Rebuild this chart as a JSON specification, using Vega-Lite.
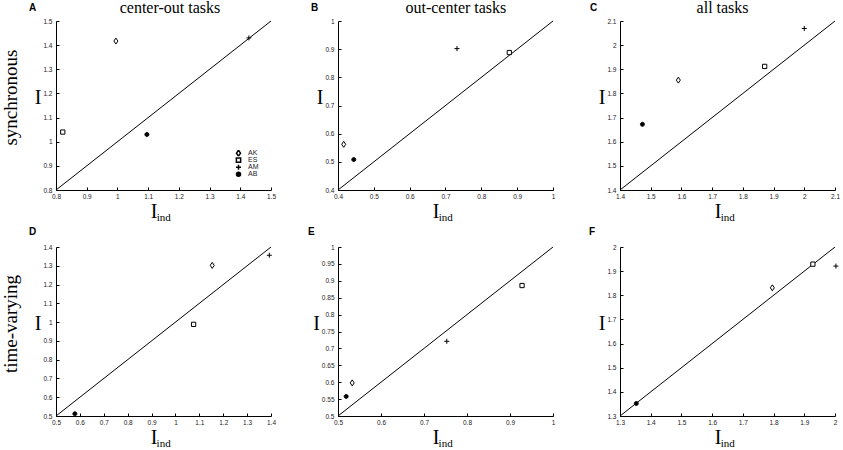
{
  "$schema": "https://vega.github.io/schema/vega-lite/v6.json",
  "background": "white",
  "padding": {"left": 1, "top": 0, "right": 0, "bottom": 0},
  "config": {
    "view": {"stroke": null},
    "axis": {
      "grid": false,
      "domainColor": "black",
      "tickColor": "black",
      "tickSize": -3,
      "labelFont": "Liberation Sans",
      "labelFontSize": 6.5,
      "labelColor": "#222",
      "labelFlush": false,
      "labelOverlap": false,
      "labelBound": false,
      "titleFont": "Liberation Serif",
      "titleFontSize": 20,
      "titleFontWeight": "normal",
      "titleColor": "black",
      "format": "~g"
    },
    "axisX": {"labelPadding": 6, "titleAlign": "right", "titleX": 101, "titleBaseline": "alphabetic", "titlePadding": 18},
    "axisY": {"labelPadding": 7, "titleAngle": 0, "titleAlign": "right", "titleBaseline": "middle", "titlePadding": 2, "titleY": 76},
    "title": {"font": "Liberation Serif", "fontSize": 19, "fontWeight": "normal", "color": "black"},
    "text": {"color": "black"}
  },
  "datasets": {
    "points": [
      {"panel": "A", "subject": "AK", "i_ind": 0.995, "i": 1.417},
      {"panel": "A", "subject": "ES", "i_ind": 0.822, "i": 1.04},
      {"panel": "A", "subject": "AM", "i_ind": 1.428, "i": 1.43},
      {"panel": "A", "subject": "AB", "i_ind": 1.096, "i": 1.03},
      {"panel": "B", "subject": "AK", "i_ind": 0.416, "i": 0.562},
      {"panel": "B", "subject": "ES", "i_ind": 0.878, "i": 0.888},
      {"panel": "B", "subject": "AM", "i_ind": 0.732, "i": 0.902},
      {"panel": "B", "subject": "AB", "i_ind": 0.444, "i": 0.508},
      {"panel": "C", "subject": "AK", "i_ind": 1.59, "i": 1.855},
      {"panel": "C", "subject": "ES", "i_ind": 1.871, "i": 1.912},
      {"panel": "C", "subject": "AM", "i_ind": 2.0, "i": 2.069},
      {"panel": "C", "subject": "AB", "i_ind": 1.473, "i": 1.672},
      {"panel": "D", "subject": "AK", "i_ind": 1.154, "i": 1.302},
      {"panel": "D", "subject": "ES", "i_ind": 1.076, "i": 0.988},
      {"panel": "D", "subject": "AM", "i_ind": 1.393, "i": 1.356},
      {"panel": "D", "subject": "AB", "i_ind": 0.579, "i": 0.512},
      {"panel": "E", "subject": "AK", "i_ind": 0.533, "i": 0.598},
      {"panel": "E", "subject": "ES", "i_ind": 0.928, "i": 0.886},
      {"panel": "E", "subject": "AM", "i_ind": 0.753, "i": 0.721},
      {"panel": "E", "subject": "AB", "i_ind": 0.519, "i": 0.558},
      {"panel": "F", "subject": "AK", "i_ind": 1.796, "i": 1.831},
      {"panel": "F", "subject": "ES", "i_ind": 1.928, "i": 1.929},
      {"panel": "F", "subject": "AM", "i_ind": 2.003, "i": 1.921},
      {"panel": "F", "subject": "AB", "i_ind": 1.353, "i": 1.352}
    ],
    "diag": [
      {"panel": "A", "i_ind": 0.8, "i": 0.8}, {"panel": "A", "i_ind": 1.5, "i": 1.5},
      {"panel": "B", "i_ind": 0.4, "i": 0.4}, {"panel": "B", "i_ind": 1.0, "i": 1.0},
      {"panel": "C", "i_ind": 1.4, "i": 1.4}, {"panel": "C", "i_ind": 2.1, "i": 2.1},
      {"panel": "D", "i_ind": 0.5, "i": 0.5}, {"panel": "D", "i_ind": 1.4, "i": 1.4},
      {"panel": "E", "i_ind": 0.5, "i": 0.5}, {"panel": "E", "i_ind": 1.0, "i": 1.0},
      {"panel": "F", "i_ind": 1.3, "i": 1.3}, {"panel": "F", "i_ind": 2.0, "i": 2.0}
    ],
    "panels": [
      {"panel": "A", "letter": "A", "sub": "ind", "task": "center-out tasks"},
      {"panel": "B", "letter": "B", "sub": "ind", "task": "out-center tasks"},
      {"panel": "C", "letter": "C", "sub": "ind", "task": "all tasks"},
      {"panel": "D", "letter": "D", "sub": "ind", "task": ""},
      {"panel": "E", "letter": "E", "sub": "ind", "task": ""},
      {"panel": "F", "letter": "F", "sub": "ind", "task": ""}
    ]
  },
  "spacing": 4,
  "resolve": {"scale": {"shape": "independent", "fill": "independent"}},
  "vconcat": [
    {
      "bounds": "flush",
      "spacing": 67,
      "resolve": {"scale": {"shape": "independent", "fill": "independent"}},
      "title": {"text": "synchronous", "orient": "left", "anchor": "middle", "offset": 8, "dx": 14},
      "hconcat": [
        {
          "width": 215, "height": 169,
          "layer": [
            {
              "data": {"name": "diag"},
              "transform": [{"filter": "datum.panel === 'A'"}],
              "mark": {"type": "line", "color": "black", "strokeWidth": 1},
              "encoding": {
                "x": {"field": "i_ind", "type": "quantitative", "scale": {"domain": [0.8, 1.5], "nice": false, "zero": false}, "axis": {"title": "I", "tickCount": 40, "labelOverlap": false, "values": [0.8, 0.9, 1, 1.1, 1.2, 1.3, 1.4, 1.5]}},
                "y": {"field": "i", "type": "quantitative", "scale": {"domain": [0.8, 1.5], "nice": false, "zero": false}, "axis": {"title": "I", "tickCount": 40, "labelOverlap": false, "values": [0.8, 0.9, 1, 1.1, 1.2, 1.3, 1.4, 1.5]}}
              }
            },
            {
              "data": {"name": "points"},
              "transform": [{"filter": "datum.panel === 'A'"}],
              "mark": {"type": "point", "stroke": "black", "strokeWidth": 1, "size": 25, "opacity": 1, "fillOpacity": 1},
              "encoding": {
                "x": {"field": "i_ind", "type": "quantitative"},
                "y": {"field": "i", "type": "quantitative"},
                "shape": {"field": "subject", "type": "nominal", "scale": {"domain": ["AK", "ES", "AM", "AB"], "range": ["M0,-1.2L0.8,0L0,1.2L-0.8,0Z", "M-0.85,-0.85H0.85V0.85H-0.85Z", "M-1,0H1M0,-1V1", "M-0.8,0A0.8,0.8 0 1,0 0.8,0A0.8,0.8 0 1,0 -0.8,0Z"]},
                  "legend": {"orient": "bottom-right", "offset": 12, "title": null, "labelFont": "Liberation Sans", "labelFontSize": 7, "labelColor": "#222", "labelOffset": 6, "symbolSize": 25, "symbolOffset": 0, "clipHeight": 6.3, "rowPadding": -1.6, "padding": 0, "encode": {"symbols": {"update": {"stroke": {"value": "black"}, "strokeWidth": {"value": 1}}}}}},
                "fill": {"field": "subject", "type": "nominal", "scale": {"domain": ["AK", "ES", "AM", "AB"], "range": ["white", "white", "black", "black"]},
                  "legend": {"orient": "bottom-right", "offset": 12, "title": null, "labelFont": "Liberation Sans", "labelFontSize": 7, "labelColor": "#222", "labelOffset": 6, "symbolSize": 25, "symbolOffset": 0, "clipHeight": 6.3, "rowPadding": -1.6, "padding": 0, "encode": {"symbols": {"update": {"stroke": {"value": "black"}, "strokeWidth": {"value": 1}}}}}}
              }
            },
            {
              "data": {"name": "panels"},
              "transform": [{"filter": "datum.panel === 'A'"}],
              "mark": {"type": "text", "font": "Liberation Sans", "fontWeight": "bold", "fontSize": 10, "align": "left", "baseline": "alphabetic", "dx": -27, "dy": -10},
              "encoding": {"x": {"datum": 0.8, "type": "quantitative"}, "y": {"datum": 1.5, "type": "quantitative"}, "text": {"field": "letter"}}
            },
            {
              "data": {"name": "panels"},
              "transform": [{"filter": "datum.panel === 'A'"}],
              "mark": {"type": "text", "font": "Liberation Serif", "fontSize": 16, "align": "center", "baseline": "alphabetic", "dy": -8},
              "encoding": {"x": {"datum": 1.171, "type": "quantitative"}, "y": {"datum": 1.5, "type": "quantitative"}, "text": {"field": "task"}}
            },
            {
              "data": {"name": "panels"},
              "transform": [{"filter": "datum.panel === 'A'"}],
              "mark": {"type": "text", "font": "Liberation Serif", "fontSize": 11, "align": "left", "baseline": "alphabetic", "dy": 31},
              "encoding": {"x": {"datum": 1.128, "type": "quantitative"}, "y": {"datum": 0.8, "type": "quantitative"}, "text": {"field": "sub"}}
            }
          ]
        },
        {
          "width": 215, "height": 169,
          "layer": [
            {
              "data": {"name": "diag"},
              "transform": [{"filter": "datum.panel === 'B'"}],
              "mark": {"type": "line", "color": "black", "strokeWidth": 1},
              "encoding": {
                "x": {"field": "i_ind", "type": "quantitative", "scale": {"domain": [0.4, 1], "nice": false, "zero": false}, "axis": {"title": "I", "tickCount": 40, "labelOverlap": false, "values": [0.4, 0.5, 0.6, 0.7, 0.8, 0.9, 1]}},
                "y": {"field": "i", "type": "quantitative", "scale": {"domain": [0.4, 1], "nice": false, "zero": false}, "axis": {"title": "I", "tickCount": 40, "labelOverlap": false, "values": [0.4, 0.5, 0.6, 0.7, 0.8, 0.9, 1]}}
              }
            },
            {
              "data": {"name": "points"},
              "transform": [{"filter": "datum.panel === 'B'"}],
              "mark": {"type": "point", "stroke": "black", "strokeWidth": 1, "size": 25, "opacity": 1, "fillOpacity": 1},
              "encoding": {
                "x": {"field": "i_ind", "type": "quantitative"},
                "y": {"field": "i", "type": "quantitative"},
                "shape": {"field": "subject", "type": "nominal", "scale": {"domain": ["AK", "ES", "AM", "AB"], "range": ["M0,-1.2L0.8,0L0,1.2L-0.8,0Z", "M-0.85,-0.85H0.85V0.85H-0.85Z", "M-1,0H1M0,-1V1", "M-0.8,0A0.8,0.8 0 1,0 0.8,0A0.8,0.8 0 1,0 -0.8,0Z"]}, "legend": null},
                "fill": {"field": "subject", "type": "nominal", "scale": {"domain": ["AK", "ES", "AM", "AB"], "range": ["white", "white", "black", "black"]}, "legend": null}
              }
            },
            {
              "data": {"name": "panels"},
              "transform": [{"filter": "datum.panel === 'B'"}],
              "mark": {"type": "text", "font": "Liberation Sans", "fontWeight": "bold", "fontSize": 10, "align": "left", "baseline": "alphabetic", "dx": -27, "dy": -10},
              "encoding": {"x": {"datum": 0.4, "type": "quantitative"}, "y": {"datum": 1, "type": "quantitative"}, "text": {"field": "letter"}}
            },
            {
              "data": {"name": "panels"},
              "transform": [{"filter": "datum.panel === 'B'"}],
              "mark": {"type": "text", "font": "Liberation Serif", "fontSize": 16, "align": "center", "baseline": "alphabetic", "dy": -8},
              "encoding": {"x": {"datum": 0.729, "type": "quantitative"}, "y": {"datum": 1, "type": "quantitative"}, "text": {"field": "task"}}
            },
            {
              "data": {"name": "panels"},
              "transform": [{"filter": "datum.panel === 'B'"}],
              "mark": {"type": "text", "font": "Liberation Serif", "fontSize": 11, "align": "left", "baseline": "alphabetic", "dy": 31},
              "encoding": {"x": {"datum": 0.681, "type": "quantitative"}, "y": {"datum": 0.4, "type": "quantitative"}, "text": {"field": "sub"}}
            }
          ]
        },
        {
          "width": 215, "height": 169,
          "layer": [
            {
              "data": {"name": "diag"},
              "transform": [{"filter": "datum.panel === 'C'"}],
              "mark": {"type": "line", "color": "black", "strokeWidth": 1},
              "encoding": {
                "x": {"field": "i_ind", "type": "quantitative", "scale": {"domain": [1.4, 2.1], "nice": false, "zero": false}, "axis": {"title": "I", "tickCount": 40, "labelOverlap": false, "values": [1.4, 1.5, 1.6, 1.7, 1.8, 1.9, 2, 2.1]}},
                "y": {"field": "i", "type": "quantitative", "scale": {"domain": [1.4, 2.1], "nice": false, "zero": false}, "axis": {"title": "I", "tickCount": 40, "labelOverlap": false, "values": [1.4, 1.5, 1.6, 1.7, 1.8, 1.9, 2, 2.1]}}
              }
            },
            {
              "data": {"name": "points"},
              "transform": [{"filter": "datum.panel === 'C'"}],
              "mark": {"type": "point", "stroke": "black", "strokeWidth": 1, "size": 25, "opacity": 1, "fillOpacity": 1},
              "encoding": {
                "x": {"field": "i_ind", "type": "quantitative"},
                "y": {"field": "i", "type": "quantitative"},
                "shape": {"field": "subject", "type": "nominal", "scale": {"domain": ["AK", "ES", "AM", "AB"], "range": ["M0,-1.2L0.8,0L0,1.2L-0.8,0Z", "M-0.85,-0.85H0.85V0.85H-0.85Z", "M-1,0H1M0,-1V1", "M-0.8,0A0.8,0.8 0 1,0 0.8,0A0.8,0.8 0 1,0 -0.8,0Z"]}, "legend": null},
                "fill": {"field": "subject", "type": "nominal", "scale": {"domain": ["AK", "ES", "AM", "AB"], "range": ["white", "white", "black", "black"]}, "legend": null}
              }
            },
            {
              "data": {"name": "panels"},
              "transform": [{"filter": "datum.panel === 'C'"}],
              "mark": {"type": "text", "font": "Liberation Sans", "fontWeight": "bold", "fontSize": 10, "align": "left", "baseline": "alphabetic", "dx": -30, "dy": -10},
              "encoding": {"x": {"datum": 1.4, "type": "quantitative"}, "y": {"datum": 2.1, "type": "quantitative"}, "text": {"field": "letter"}}
            },
            {
              "data": {"name": "panels"},
              "transform": [{"filter": "datum.panel === 'C'"}],
              "mark": {"type": "text", "font": "Liberation Serif", "fontSize": 16, "align": "center", "baseline": "alphabetic", "dy": -8},
              "encoding": {"x": {"datum": 1.734, "type": "quantitative"}, "y": {"datum": 2.1, "type": "quantitative"}, "text": {"field": "task"}}
            },
            {
              "data": {"name": "panels"},
              "transform": [{"filter": "datum.panel === 'C'"}],
              "mark": {"type": "text", "font": "Liberation Serif", "fontSize": 11, "align": "left", "baseline": "alphabetic", "dy": 31},
              "encoding": {"x": {"datum": 1.728, "type": "quantitative"}, "y": {"datum": 1.4, "type": "quantitative"}, "text": {"field": "sub"}}
            }
          ]
        }
      ]
    },
    {
      "bounds": "flush",
      "spacing": 67,
      "resolve": {"scale": {"shape": "independent", "fill": "independent"}},
      "title": {"text": "time-varying", "orient": "left", "anchor": "middle", "offset": 8, "dx": 14},
      "hconcat": [
        {
          "width": 215, "height": 169,
          "layer": [
            {
              "data": {"name": "diag"},
              "transform": [{"filter": "datum.panel === 'D'"}],
              "mark": {"type": "line", "color": "black", "strokeWidth": 1},
              "encoding": {
                "x": {"field": "i_ind", "type": "quantitative", "scale": {"domain": [0.5, 1.4], "nice": false, "zero": false}, "axis": {"title": "I", "tickCount": 40, "labelOverlap": false, "values": [0.5, 0.6, 0.7, 0.8, 0.9, 1, 1.1, 1.2, 1.3, 1.4]}},
                "y": {"field": "i", "type": "quantitative", "scale": {"domain": [0.5, 1.4], "nice": false, "zero": false}, "axis": {"title": "I", "tickCount": 40, "labelOverlap": false, "values": [0.5, 0.6, 0.7, 0.8, 0.9, 1, 1.1, 1.2, 1.3, 1.4]}}
              }
            },
            {
              "data": {"name": "points"},
              "transform": [{"filter": "datum.panel === 'D'"}],
              "mark": {"type": "point", "stroke": "black", "strokeWidth": 1, "size": 25, "opacity": 1, "fillOpacity": 1},
              "encoding": {
                "x": {"field": "i_ind", "type": "quantitative"},
                "y": {"field": "i", "type": "quantitative"},
                "shape": {"field": "subject", "type": "nominal", "scale": {"domain": ["AK", "ES", "AM", "AB"], "range": ["M0,-1.2L0.8,0L0,1.2L-0.8,0Z", "M-0.85,-0.85H0.85V0.85H-0.85Z", "M-1,0H1M0,-1V1", "M-0.8,0A0.8,0.8 0 1,0 0.8,0A0.8,0.8 0 1,0 -0.8,0Z"]}, "legend": null},
                "fill": {"field": "subject", "type": "nominal", "scale": {"domain": ["AK", "ES", "AM", "AB"], "range": ["white", "white", "black", "black"]}, "legend": null}
              }
            },
            {
              "data": {"name": "panels"},
              "transform": [{"filter": "datum.panel === 'D'"}],
              "mark": {"type": "text", "font": "Liberation Sans", "fontWeight": "bold", "fontSize": 10, "align": "left", "baseline": "alphabetic", "dx": -27, "dy": -12},
              "encoding": {"x": {"datum": 0.5, "type": "quantitative"}, "y": {"datum": 1.4, "type": "quantitative"}, "text": {"field": "letter"}}
            },
            {
              "data": {"name": "panels"},
              "transform": [{"filter": "datum.panel === 'D'"}],
              "mark": {"type": "text", "font": "Liberation Serif", "fontSize": 11, "align": "left", "baseline": "alphabetic", "dy": 31},
              "encoding": {"x": {"datum": 0.921, "type": "quantitative"}, "y": {"datum": 0.5, "type": "quantitative"}, "text": {"field": "sub"}}
            }
          ]
        },
        {
          "width": 215, "height": 169,
          "layer": [
            {
              "data": {"name": "diag"},
              "transform": [{"filter": "datum.panel === 'E'"}],
              "mark": {"type": "line", "color": "black", "strokeWidth": 1},
              "encoding": {
                "x": {"field": "i_ind", "type": "quantitative", "scale": {"domain": [0.5, 1], "nice": false, "zero": false}, "axis": {"title": "I", "tickCount": 40, "labelOverlap": false, "values": [0.5, 0.6, 0.7, 0.8, 0.9, 1]}},
                "y": {"field": "i", "type": "quantitative", "scale": {"domain": [0.5, 1], "nice": false, "zero": false}, "axis": {"title": "I", "tickCount": 40, "labelOverlap": false, "values": [0.5, 0.55, 0.6, 0.65, 0.7, 0.75, 0.8, 0.85, 0.9, 0.95, 1]}}
              }
            },
            {
              "data": {"name": "points"},
              "transform": [{"filter": "datum.panel === 'E'"}],
              "mark": {"type": "point", "stroke": "black", "strokeWidth": 1, "size": 25, "opacity": 1, "fillOpacity": 1},
              "encoding": {
                "x": {"field": "i_ind", "type": "quantitative"},
                "y": {"field": "i", "type": "quantitative"},
                "shape": {"field": "subject", "type": "nominal", "scale": {"domain": ["AK", "ES", "AM", "AB"], "range": ["M0,-1.2L0.8,0L0,1.2L-0.8,0Z", "M-0.85,-0.85H0.85V0.85H-0.85Z", "M-1,0H1M0,-1V1", "M-0.8,0A0.8,0.8 0 1,0 0.8,0A0.8,0.8 0 1,0 -0.8,0Z"]}, "legend": null},
                "fill": {"field": "subject", "type": "nominal", "scale": {"domain": ["AK", "ES", "AM", "AB"], "range": ["white", "white", "black", "black"]}, "legend": null}
              }
            },
            {
              "data": {"name": "panels"},
              "transform": [{"filter": "datum.panel === 'E'"}],
              "mark": {"type": "text", "font": "Liberation Sans", "fontWeight": "bold", "fontSize": 10, "align": "left", "baseline": "alphabetic", "dx": -30, "dy": -12},
              "encoding": {"x": {"datum": 0.5, "type": "quantitative"}, "y": {"datum": 1, "type": "quantitative"}, "text": {"field": "letter"}}
            },
            {
              "data": {"name": "panels"},
              "transform": [{"filter": "datum.panel === 'E'"}],
              "mark": {"type": "text", "font": "Liberation Serif", "fontSize": 11, "align": "left", "baseline": "alphabetic", "dy": 31},
              "encoding": {"x": {"datum": 0.734, "type": "quantitative"}, "y": {"datum": 0.5, "type": "quantitative"}, "text": {"field": "sub"}}
            }
          ]
        },
        {
          "width": 215, "height": 169,
          "layer": [
            {
              "data": {"name": "diag"},
              "transform": [{"filter": "datum.panel === 'F'"}],
              "mark": {"type": "line", "color": "black", "strokeWidth": 1},
              "encoding": {
                "x": {"field": "i_ind", "type": "quantitative", "scale": {"domain": [1.3, 2], "nice": false, "zero": false}, "axis": {"title": "I", "tickCount": 40, "labelOverlap": false, "values": [1.3, 1.4, 1.5, 1.6, 1.7, 1.8, 1.9, 2]}},
                "y": {"field": "i", "type": "quantitative", "scale": {"domain": [1.3, 2], "nice": false, "zero": false}, "axis": {"title": "I", "tickCount": 40, "labelOverlap": false, "values": [1.3, 1.4, 1.5, 1.6, 1.7, 1.8, 1.9, 2]}}
              }
            },
            {
              "data": {"name": "points"},
              "transform": [{"filter": "datum.panel === 'F'"}],
              "mark": {"type": "point", "stroke": "black", "strokeWidth": 1, "size": 25, "opacity": 1, "fillOpacity": 1},
              "encoding": {
                "x": {"field": "i_ind", "type": "quantitative"},
                "y": {"field": "i", "type": "quantitative"},
                "shape": {"field": "subject", "type": "nominal", "scale": {"domain": ["AK", "ES", "AM", "AB"], "range": ["M0,-1.2L0.8,0L0,1.2L-0.8,0Z", "M-0.85,-0.85H0.85V0.85H-0.85Z", "M-1,0H1M0,-1V1", "M-0.8,0A0.8,0.8 0 1,0 0.8,0A0.8,0.8 0 1,0 -0.8,0Z"]}, "legend": null},
                "fill": {"field": "subject", "type": "nominal", "scale": {"domain": ["AK", "ES", "AM", "AB"], "range": ["white", "white", "black", "black"]}, "legend": null}
              }
            },
            {
              "data": {"name": "panels"},
              "transform": [{"filter": "datum.panel === 'F'"}],
              "mark": {"type": "text", "font": "Liberation Sans", "fontWeight": "bold", "fontSize": 10, "align": "left", "baseline": "alphabetic", "dx": -31, "dy": -12},
              "encoding": {"x": {"datum": 1.3, "type": "quantitative"}, "y": {"datum": 2, "type": "quantitative"}, "text": {"field": "letter"}}
            },
            {
              "data": {"name": "panels"},
              "transform": [{"filter": "datum.panel === 'F'"}],
              "mark": {"type": "text", "font": "Liberation Serif", "fontSize": 11, "align": "left", "baseline": "alphabetic", "dy": 31},
              "encoding": {"x": {"datum": 1.628, "type": "quantitative"}, "y": {"datum": 1.3, "type": "quantitative"}, "text": {"field": "sub"}}
            }
          ]
        }
      ]
    }
  ]
}
